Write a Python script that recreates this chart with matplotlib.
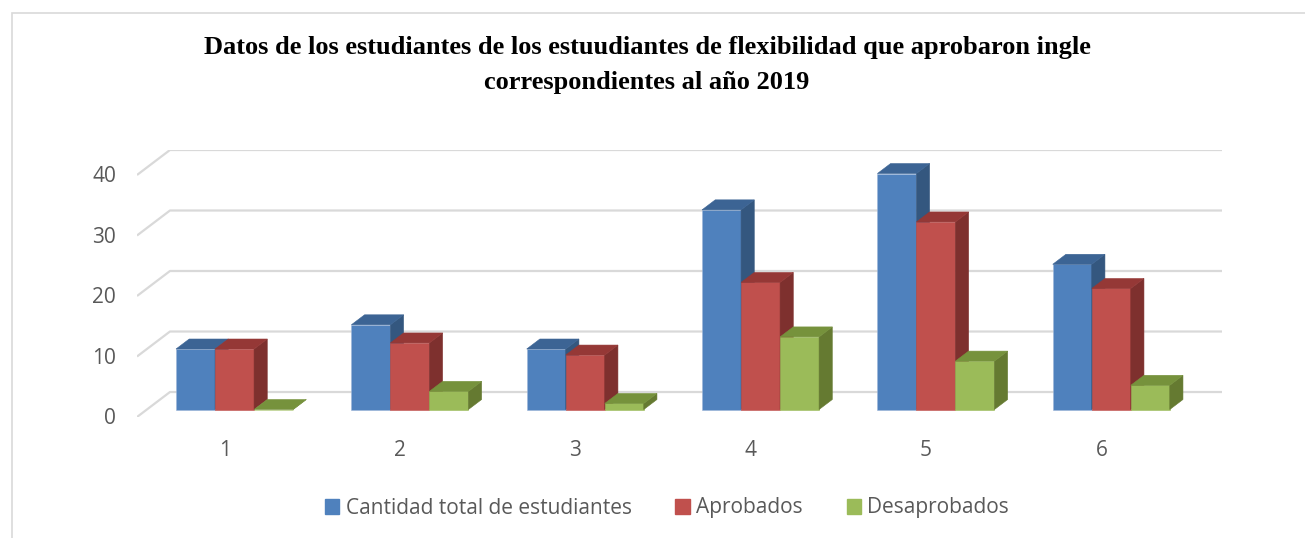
import matplotlib
matplotlib.use("Agg")
import matplotlib.pyplot as plt
from matplotlib.patches import Rectangle, Polygon, Patch

# data
categories = ['1', '2', '3', '4', '5', '6']
total = [10, 14, 10, 33, 39, 24]
aprobados = [10, 11, 9, 21, 31, 20]
desaprobados = [0, 3, 1, 12, 8, 4]
series_names = ['Cantidad total de estudiantes', 'Aprobados', 'Desaprobados']
y_ticks = [0, 10, 20, 30, 40]

title = ('Datos de los estudiantes de los estuudiantes de flexibilidad que aprobaron ingle\n'
         'correspondientes al año 2019')

# front / top / side shades for each series
front_colors = ['#4F81BD', '#C0504D', '#9BBB59']
top_colors = ['#3C6494', '#953836', '#76923C']
side_colors = ['#34577F', '#7E302E', '#657A31']

TEXT = '#595959'
GRID = '#D9D9D9'
FONT = 'Open Sans'

W, H = 1305, 538
fig = plt.figure(figsize=(W / 100, H / 100), dpi=100)

# outer chart border (only top and left are inside the picture)
fig.patches.append(Rectangle((12 / W, -0.1), 1.2, 1 - 13 / H + 0.1,
                             transform=fig.transFigure, fill=False,
                             edgecolor=GRID, linewidth=1.2))

# axes covers the floor front-left corner to the back-wall top-right
left, right, top, bottom = 137, 1222, 150, 417
ax = fig.add_axes([left / W, 1 - bottom / H, (right - left) / W, (bottom - top) / H])
ax.set_axis_off()

DX, DY = 0.188, 4.13        # full depth of the 3d box, in data units
ymax = 40
ax.set_xlim(0, len(categories) + DX)
ax.set_ylim(0, ymax + DY)

# back wall gridlines with the diagonal run on the left side wall
for v in y_ticks:
    ax.plot([0, DX, len(categories) + DX], [v, v + DY, v + DY],
            color=GRID, linewidth=1.6, zorder=0, solid_capstyle='butt')
    ax.text(-0.12, v - 0.3, str(v), ha='right', va='center',
            fontsize=15, color=TEXT, family=FONT)

bw = 0.2225                 # bar width
f0, f1 = 0.3, 0.7           # bars sit between these depth fractions
bdx, bdy = (f1 - f0) * DX, (f1 - f0) * DY
yb = f0 * DY

series = [total, aprobados, desaprobados]
z = 2
for i in range(len(categories)):
    for j, vals in enumerate(series):
        h = vals[i]
        x = i + 0.5 - 1.5 * bw + j * bw + f0 * DX
        ax.bar(x, h, width=bw, bottom=yb, align='edge', color=front_colors[j],
               edgecolor='#9DB6D8' if j == 0 else front_colors[j],
               linewidth=0.4, zorder=z)
        ax.add_patch(Polygon([(x + bw, yb), (x + bw + bdx, yb + bdy),
                              (x + bw + bdx, yb + h + bdy), (x + bw, yb + h)],
                             closed=True, facecolor=side_colors[j],
                             edgecolor=side_colors[j], linewidth=0.4, zorder=z))
        ax.add_patch(Polygon([(x, yb + h), (x + bw, yb + h),
                              (x + bw + bdx, yb + h + bdy), (x + bdx, yb + h + bdy)],
                             closed=True, facecolor=top_colors[j],
                             edgecolor=top_colors[j], linewidth=0.4, zorder=z))
        z += 1

# category labels along the floor front edge
for i, c in enumerate(categories):
    ax.text(i + 0.5, -5.6, c, ha='center', va='center',
            fontsize=15, color=TEXT, family=FONT, clip_on=False)

fig.text(647 / W, 1 - 65 / H, title, ha='center', va='center',
         fontsize=19, fontweight='bold', family='Liberation Serif',
         linespacing=1.72, color='black')

handles = [Patch(facecolor=c, edgecolor=c) for c in front_colors]
fig.legend(handles, series_names, loc='center', ncol=3,
           bbox_to_anchor=(667 / W, 1 - 508 / H), frameon=False,
           handlelength=0.7, handleheight=0.7, handletextpad=0.3,
           columnspacing=2.1, prop={'family': FONT, 'size': 15},
           labelcolor=TEXT)

fig.savefig('out.png', dpi=100)
